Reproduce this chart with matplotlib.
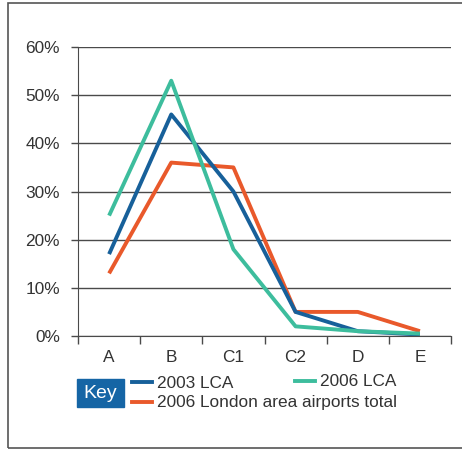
#!/usr/bin/env python3
import matplotlib.pyplot as plt
from matplotlib.lines import Line2D
from matplotlib.patches import Rectangle

categories = ["A", "B", "C1", "C2", "D", "E"]
lca_2003 = [17, 46, 30, 5, 1, 0.3]
lca_2006 = [25, 53, 18, 2, 1, 0.5]
london_2006 = [13, 36, 35, 5, 5, 1]
yticks = [0, 10, 20, 30, 40, 50, 60]

blue = "#17609a"
teal = "#3dbd9d"
orange = "#e9592b"
grid = "#4a4a4a"
txt = "#333333"
fs = 12.4

plt.rcParams['font.family'] = ['Liberation Sans', 'DejaVu Sans']

W, H = 462, 450
fig = plt.figure(figsize=(W / 100, H / 100), dpi=100)

# outer frame
fig.patches.append(Rectangle((8 / W, 1 - 448 / H), 460 / W, 445 / H,
                             transform=fig.transFigure, fill=False,
                             edgecolor="#555555", lw=1.2))

ax = fig.add_axes([78 / W, 1 - 336 / H, (451 - 78) / W, (336 - 47) / H])
x = range(len(categories))
ax.plot(x, london_2006, color=orange, lw=2.8, solid_capstyle="butt")
ax.plot(x, lca_2003, color=blue, lw=2.8, solid_capstyle="butt")
ax.plot(x, lca_2006, color=teal, lw=2.8, solid_capstyle="butt")

ax.set_xlim(-0.5, len(categories) - 0.5)
ax.set_ylim(0, 60)
ax.set_yticks(yticks)
ax.set_yticklabels([f"{v}%" for v in yticks], fontsize=fs, color=txt)
ax.set_xticks(list(x))
ax.set_xticklabels(categories, fontsize=fs, color=txt)
ax.set_xticks([i - 0.5 for i in range(len(categories) + 1)], minor=True)
ax.tick_params(axis="x", which="major", length=0, pad=10)
ax.tick_params(axis="x", which="minor", length=6, color=grid, width=1, direction="out")
ax.tick_params(axis="y", length=5, color=grid, width=1, pad=8)
ax.grid(axis="y", color=grid, lw=1)
ax.set_axisbelow(True)
for s in ["top", "right"]:
    ax.spines[s].set_visible(False)
ax.spines["left"].set_color(grid)
ax.spines["bottom"].set_color(grid)

# key
fig.patches.append(Rectangle((77 / W, 1 - 407 / H), 47 / W, 28 / H,
                             transform=fig.transFigure, color="#1565a5"))
fig.text(100.5 / W, 1 - 393 / H, "Key", color="white", fontsize=14,
         ha="center", va="center")
for (x0, y0, c) in [(132, 382, blue), (295, 381, teal), (132, 402, orange)]:
    fig.lines.append(Line2D([x0 / W, (x0 + 20) / W], [1 - y0 / H, 1 - y0 / H],
                            transform=fig.transFigure, color=c, lw=2.8))
fig.text(157 / W, 1 - 383 / H, "2003 LCA", fontsize=fs, color=txt, va="center")
fig.text(320 / W, 1 - 382 / H, "2006 LCA", fontsize=fs, color=txt, va="center")
fig.text(157 / W, 1 - 402 / H, "2006 London area airports total", fontsize=fs,
         color=txt, va="center")

fig.savefig("out.png", dpi=100)
